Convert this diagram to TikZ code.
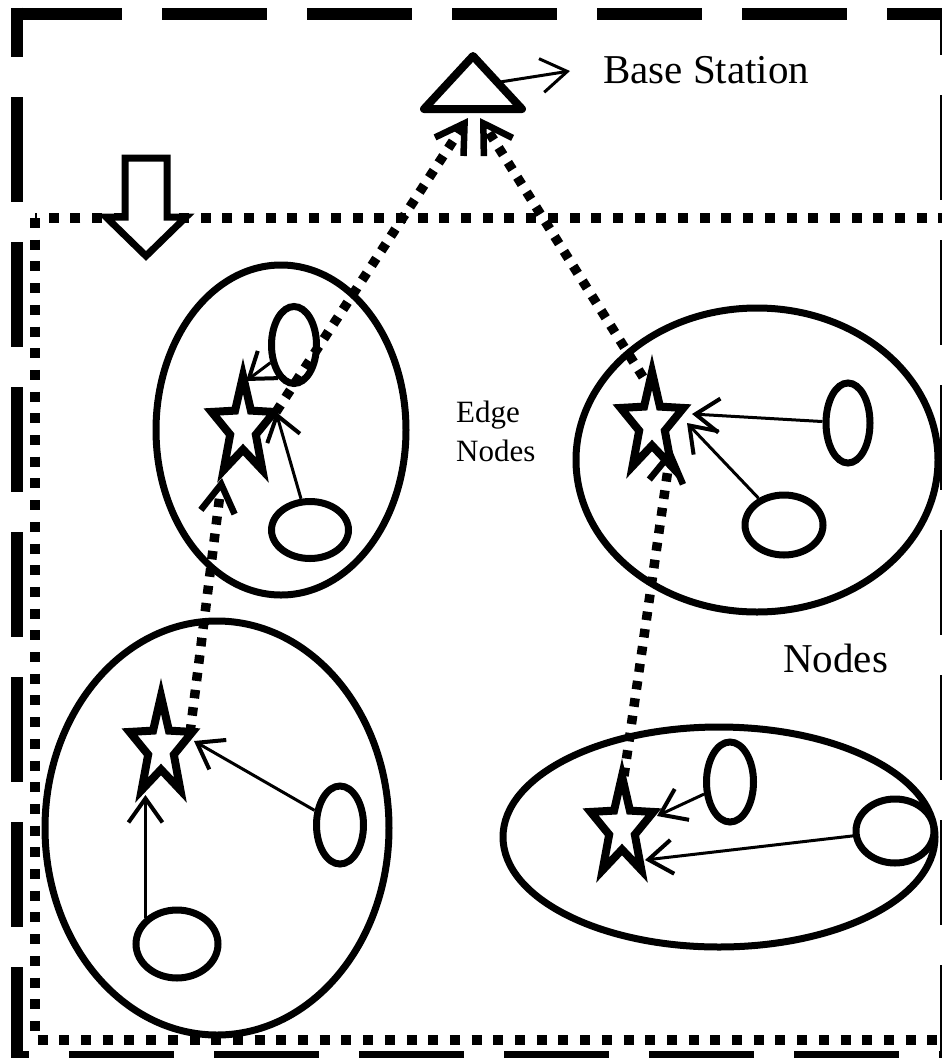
\documentclass[tikz,border=0pt]{standalone}
\usepackage{fontspec}
\setmainfont{Liberation Serif}
\usetikzlibrary{arrows.meta,shapes.geometric}
\newcommand\estar[3]{%
  \coordinate (#1) at (#2,#3);
  \draw[starsty, shift={(#2,#3)}] (-90:33 and 52) -- (-54:13.5 and 21.5) -- (-18:33 and 52) -- (18:13.5 and 21.5) -- (54:33 and 52) -- (90:13.5 and 21.5) -- (126:33 and 52) -- (162:13.5 and 21.5) -- (198:33 and 52) -- (234:13.5 and 21.5) -- cycle;}
\begin{document}
\begin{tikzpicture}[x=1pt,y=-1pt,
  outerdash/.style={line width=12pt, dash pattern=on 105pt off 40pt},
  dotrect/.style={line width=10pt, dash pattern=on 10pt off 11.7pt, line join=round},
  cluster/.style={line width=7pt},
  nodeell/.style={draw, ellipse, line width=7pt, inner sep=0pt},
  starsty/.style={line width=8pt, fill=white, line join=miter},
  solidarr/.style={line width=3pt, -{Straight Barb[length=24pt,width=34pt,line width=4pt]}},
  dotarr/.style={line width=9.5pt, dash pattern=on 8.5pt off 9pt, -{Straight Barb[length=28pt,width=34pt,line width=6.5pt]}},
  lbl/.style={inner sep=0pt}
]
\useasboundingbox (0,0) rectangle (942,1058);
% outer dashed frame
\draw[outerdash] (17,13.5) -- (952,13.5);
\draw[outerdash, dash phase=55.5pt] (17,7.5) -- (17,1064);
\draw[outerdash, dash phase=57.5pt] (946,7.5) -- (946,1064);
\draw[outerdash, dash phase=93pt] (17,1057) -- (952,1057);
% dotted region
\draw[dotrect] (35,218) rectangle (950,1040);
% block arrow
\draw[line width=7pt, fill=white, line join=miter] (125,158) -- (167,158) -- (167,217) -- (186,217) -- (146,256) -- (106,217) -- (125,217) -- cycle;
% clusters
\draw[cluster] (281,430) ellipse [x radius=125pt, y radius=165pt];
\draw[cluster] (757,460) ellipse [x radius=181pt, y radius=152pt];
\draw[cluster] (217,828) ellipse [x radius=172pt, y radius=207pt];
\draw[cluster] (719,837) ellipse [x radius=216pt, y radius=110pt];
% sensor nodes
\node[nodeell, minimum width=45pt, minimum height=77pt] (A1) at (294,345) {};
\node[nodeell, minimum width=77pt, minimum height=57pt] (A2) at (310,530) {};
\node[nodeell, minimum width=44pt, minimum height=80pt] (B1) at (848,423) {};
\node[nodeell, minimum width=78pt, minimum height=60pt] (B2) at (784,525) {};
\node[nodeell, minimum width=47pt, minimum height=78pt] (C1) at (340,825) {};
\node[nodeell, minimum width=82pt, minimum height=68pt] (C2) at (177,944) {};
\node[nodeell, minimum width=47pt, minimum height=80pt] (D1) at (730,782) {};
\node[nodeell, minimum width=78pt, minimum height=64pt] (D2) at (895,831) {};
% base station
\draw[line width=8pt, fill=white, line join=round] (473,56) -- (522,109) -- (424,109) -- cycle;
\coordinate (BSside) at (500,82);
\coordinate (BSend) at (570,71);
\coordinate (BSl) at (468,118);
\coordinate (BSr) at (480,118);
% edge nodes (stars)
\estar{SA}{243}{428}
\estar{SB}{652}{424}
\estar{SC}{161}{748}
\estar{SD}{622}{828}
\coordinate (SAt) at (246,381);
\coordinate (SAr) at (276,412);
\coordinate (SAbl) at (222,478);
\coordinate (SBt) at (643,377);
\coordinate (SBr) at (692,414);
\coordinate (SBr2) at (687,423);
\coordinate (SBbr) at (671,448);
\coordinate (SCr) at (194,741);
\coordinate (SCr2) at (190,733);
\coordinate (SCb) at (147,795);
\coordinate (SDt) at (624,776);
\coordinate (SDr) at (657,816);
\coordinate (SDbr) at (645,860);
% member links
\draw[solidarr] (A1) -- (SAt);
\draw[solidarr] (A2) -- (SAr);
\draw[solidarr] (B1) -- (SBr);
\draw[solidarr] (B2) -- (SBr2);
\draw[solidarr] (C1) -- (SCr);
\draw[solidarr] (C2.140) -- (C2.140 |- SCb);
\draw[solidarr] (D1) -- (SDr);
\draw[solidarr] (D2) -- (SDbr);
% edge links
\draw[dotarr] (SAr) -- (BSl);
\draw[dotarr] (SBt) -- (BSr);
\draw[dotarr] (SCr2) -- (SAbl);
\draw[dotarr] (SDt) -- (SBbr);
% labels
\node[lbl, anchor=base west, font=\fontsize{41}{44}\selectfont] (bslabel) at (603,83) {Base Station};
\draw[line width=3pt, -{Straight Barb[length=26pt,width=34pt,line width=3pt]}] (BSside) -- (BSend);
\node[lbl, anchor=base west, font=\fontsize{41}{44}\selectfont] (nodeslabel) at (783,672) {Nodes};
\node[lbl, anchor=north west, align=left, font=\fontsize{31}{39}\selectfont] (edgelabel) at (456,401) {Edge\\Nodes};
\end{tikzpicture}
\end{document}
